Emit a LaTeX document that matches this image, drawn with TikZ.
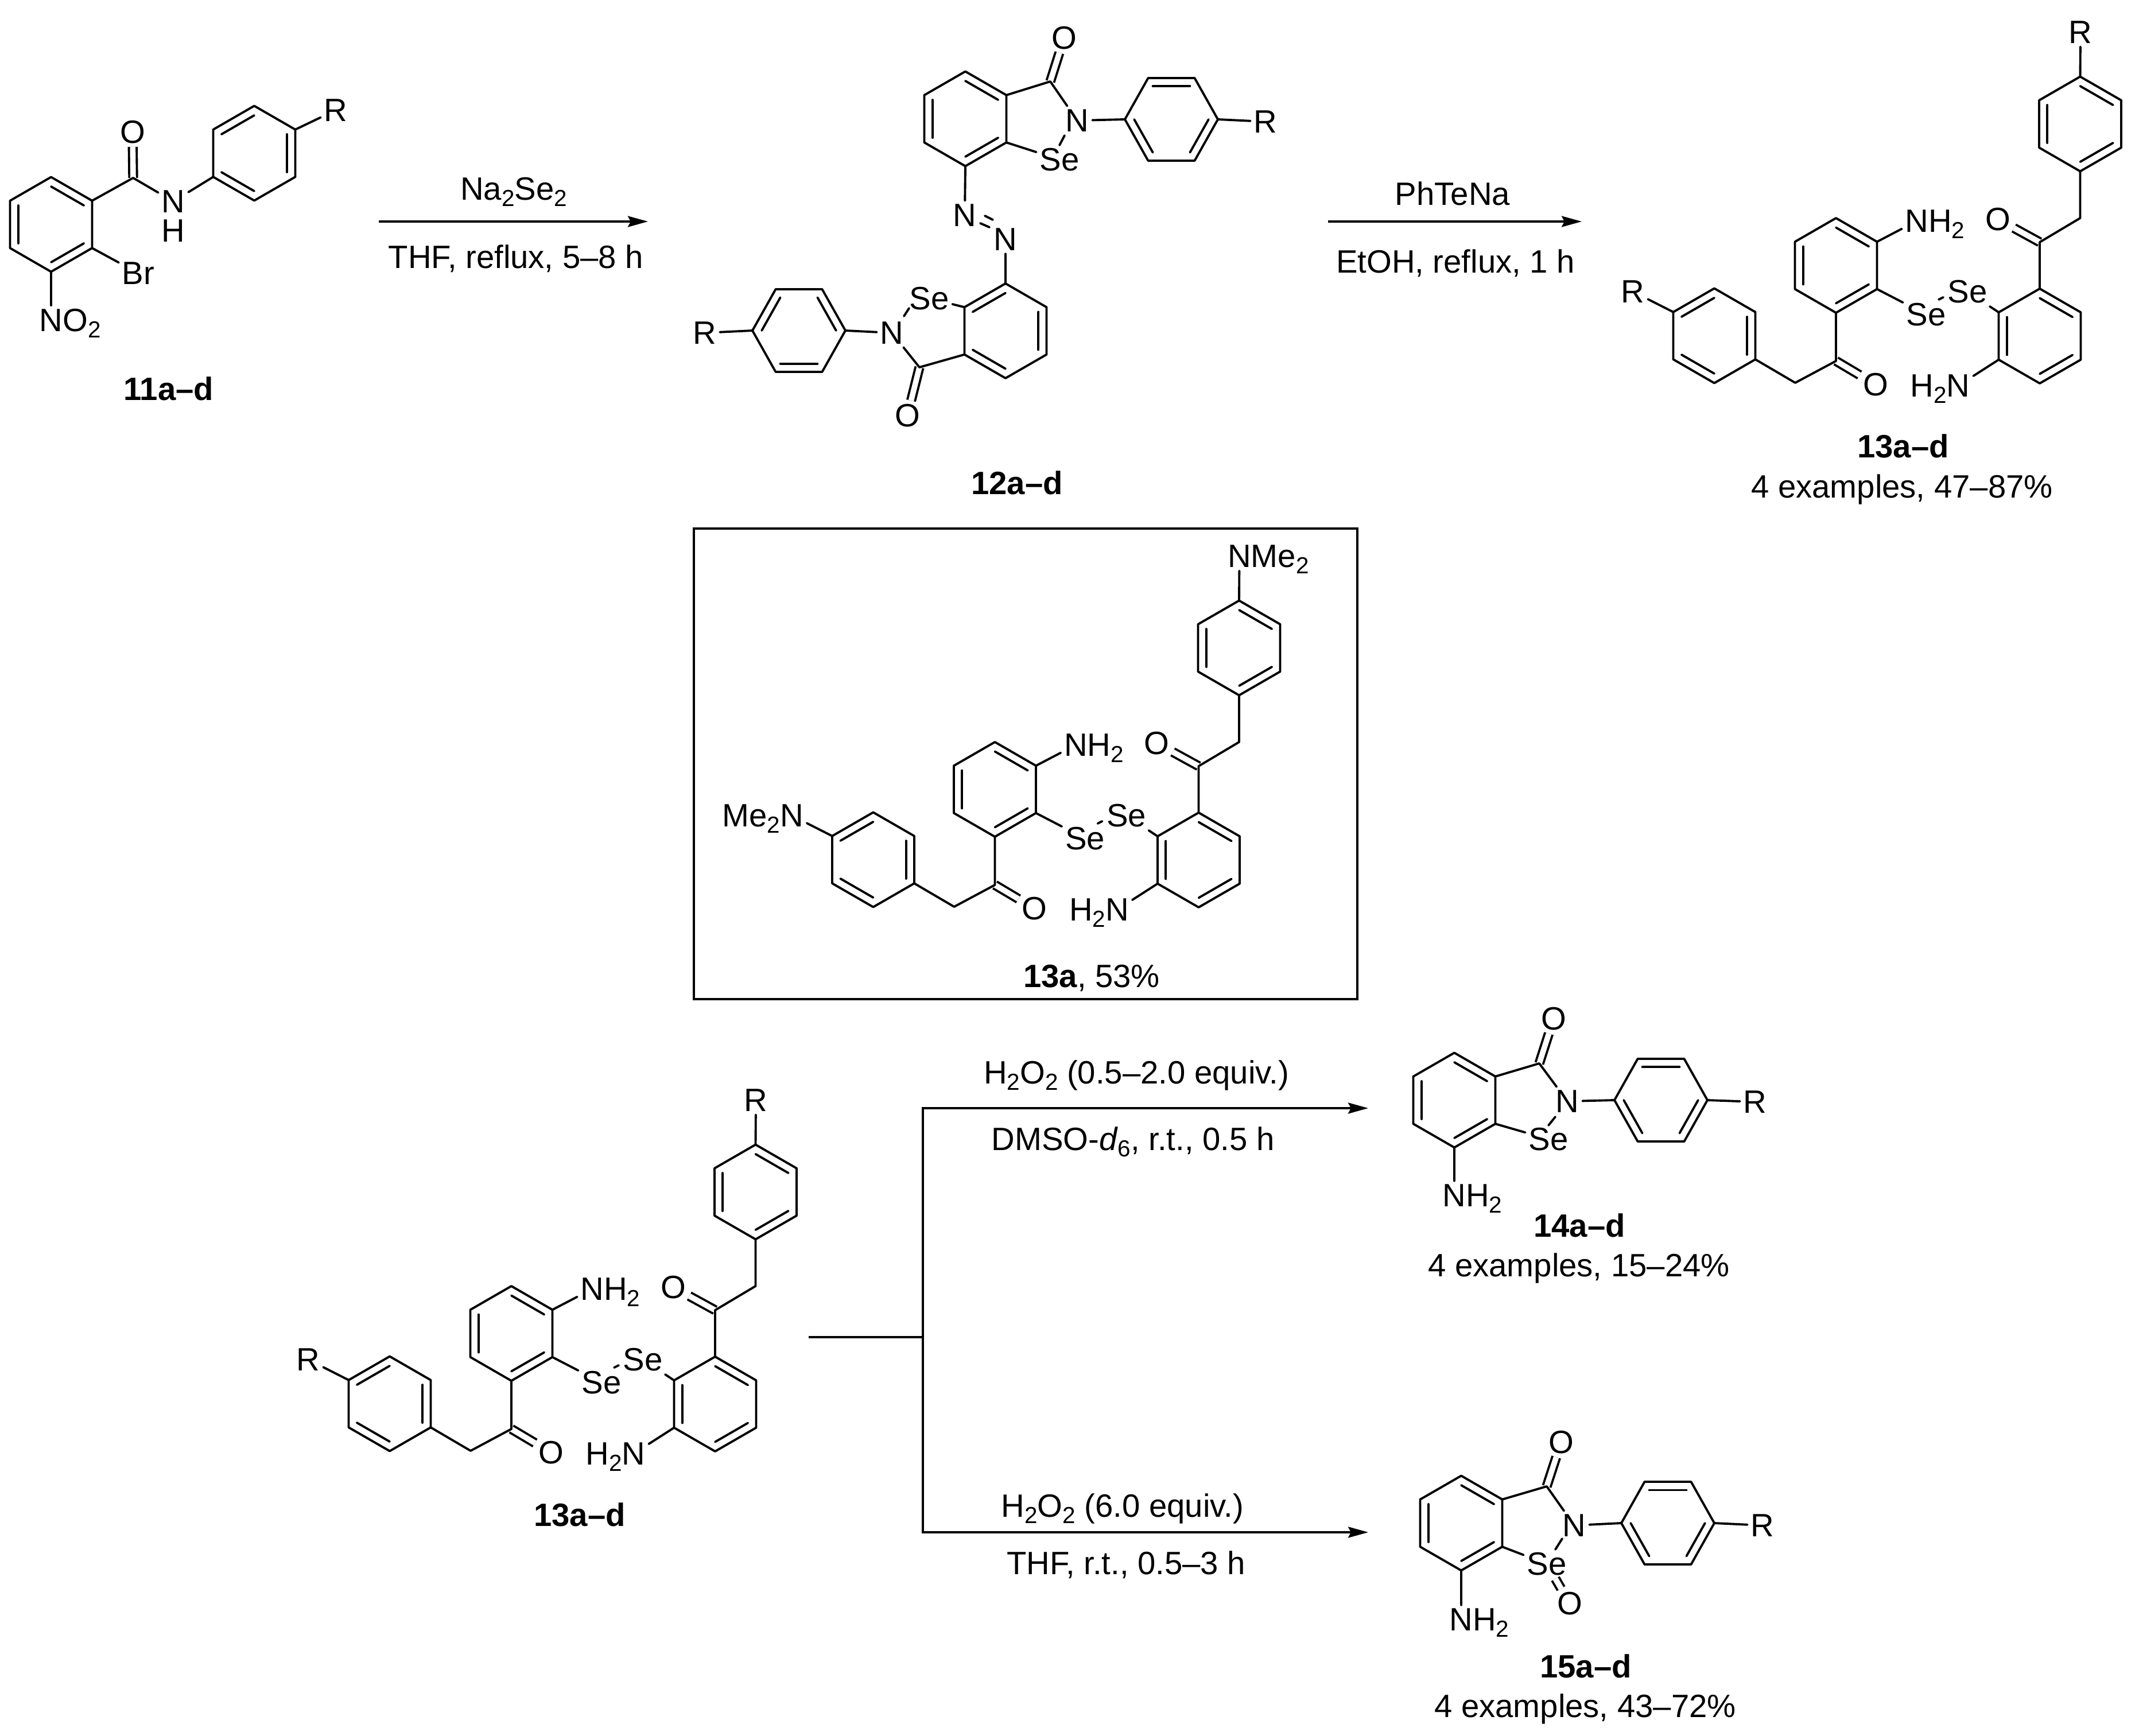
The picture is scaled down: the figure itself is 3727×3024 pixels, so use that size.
\documentclass[tikz,border=0pt]{standalone}
\usepackage{fontspec}
\setmainfont{Liberation Sans}
\usetikzlibrary{calc, arrows.meta}
\tikzstyle{bond} = [line width=1.1pt, line cap=round, line join=round]
\tikzstyle{dbond} = [line width=1.1pt, double, double distance=.096cm]
\tikzstyle{atom} = [inner sep=.06cm, outer sep=0pt]
\tikzstyle{txt} = [inner sep=0pt, anchor=base]
\tikzstyle{arrow} = [line width=1.1pt, -{Stealth[length=.35cm, width=.19cm, inset=.05cm]}]
\newcommand{\low}[1]{\smash{\raisebox{-.2em}{\fontsize{11.5}{11.5}\selectfont #1}}}
\newcommand{\ringV}[3]{
	\coordinate (#1c) at (#2,#3);
	\foreach \i/\px/\py in {1/0/-82.5, 2/71.5/-41.25, 3/71.5/41.25, 4/0/82.5, 5/-71.5/41.25, 6/-71.5/-41.25}
		\coordinate (#1\i) at ($(#1c)+(\px,\py)$);
	\draw [bond] (#11) -- (#12) -- (#13) -- (#14) -- (#15) -- (#16) -- cycle;
}
\newcommand{\ringH}[3]{
	\coordinate (#1c) at (#2,#3);
	\foreach \i/\px/\py in {1/-40.5/-72, 2/40.5/-72, 3/81/0, 4/40.5/72, 5/-40.5/72, 6/-81/0}
		\coordinate (#1\i) at ($(#1c)+(\px,\py)$);
	\draw [bond] (#11) -- (#12) -- (#13) -- (#14) -- (#15) -- (#16) -- cycle;
}
\newcommand{\dblin}[3]{\draw [bond] ($(#1#2)!.2!(#1c)$) -- ($(#1#3)!.2!(#1c)$);}
\newcommand{\diselenide}[5]{
	\begin{scope}[name prefix=#1-, shift={(#2,#3)}]
		\ringV{a}{3199}{462.5}
		\dblin{a}{1}{2} \dblin{a}{3}{4} \dblin{a}{5}{6}
		\ringV{b}{2987}{585}
		\dblin{b}{2}{3} \dblin{b}{6}{1} \dblin{b}{4}{5}
		\ringV{c}{3554}{585.5}
		\dblin{c}{5}{6} \dblin{c}{1}{2} \dblin{c}{3}{4}
		\ringV{d}{3624.5}{216}
		\dblin{d}{1}{2} \dblin{d}{5}{6} \dblin{d}{3}{4}
		\coordinate (keto) at (3199,629);
		\coordinate (meth) at (3128,667);
		\coordinate (ketoB) at (3554,422);
		\coordinate (methB) at (3624.5,380);
		\coordinate (dashA) at (3378,522);
		\coordinate (dashB) at (3386,518);
		\node (oxo) [atom] at (3268,670) {O};
		\node (oxoB) [atom] at (3481,382) {O};
		\node (amine) [atom] at (3340,385) {N\rlap{H\low{2}}};
		\node (amineB) [atom] at (3412,672) {\llap{H\low{2}}N};
		\node (se) [atom] at (3356,548) {Se};
		\node (seB) [atom] at (3428,508) {Se};
		\node (top) [atom] at (3625,56) {#4};
		\node (left) [atom] at (2845,508) {#5};
		\draw [dbond] (keto) -- (oxo);
		\draw [dbond] (ketoB) -- (oxoB);
		\draw [bond] (a4) -- (keto) -- (meth) -- (b3);
		\draw [bond] (c1) -- (ketoB) -- (methB) -- (d4);
		\draw [bond] (a2) -- (amine);
		\draw [bond] (c5) -- (amineB);
		\draw [bond] (a3) -- (se);
		\draw [bond] (c6) -- (seB);
		\draw [bond] (dashA) -- (dashB);
		\draw [bond] (d1) -- (top);
		\draw [bond] (b6) -- (left);
	\end{scope}
}
\begin{document}
\begin{tikzpicture}[x=.01cm, y=-.01cm, font=\fontsize{16}{19}\selectfont]
	\useasboundingbox (0,0) rectangle (3727,3024);
	\ringV{ia}{89}{391}
	\dblin{ia}{1}{2} \dblin{ia}{3}{4} \dblin{ia}{5}{6}
	\ringV{ib}{443}{267}
	\dblin{ib}{6}{1} \dblin{ib}{2}{3} \dblin{ib}{4}{5}
	\coordinate (iC) at (232,310);
	\node (iO) [atom] at (231,230) {O};
	\node (iN) [atom] at (302,351) {N};
	\node (iH) [atom] at (302,402) {H};
	\node (iR) [atom] at (585,192) {R};
	\node (iBr) [atom] at (241,476) {Br};
	\node (iNO) [atom] at (89,558) {N\rlap{O\low{2}}};
	\draw [dbond] (iC) -- (iO);
	\draw [bond] (ia2) -- (iC) -- (iN) -- (ib5);
	\draw [bond] (ib2) -- (iR);
	\draw [bond] (ia3) -- (iBr);
	\draw [bond] (ia4) -- (iNO);
	\node (lab11) [txt] at (294,697) {\textbf{11a–d}};
	\coordinate (arrA) at (660,386);
	\coordinate (arrB) at (1129,386);
	\draw [arrow] (arrA) -- (arrB);
	\node (naSe) [txt] at (895,348) {Na\low{2}Se\low{2}};
	\node (thf) [txt] at (899,467) {THF, reflux, 5–8 h};
	\ringV{ja}{1682}{207}
	\dblin{ja}{1}{2} \dblin{ja}{3}{4} \dblin{ja}{5}{6}
	\ringH{jb}{2041}{208}
	\dblin{jb}{1}{2} \dblin{jb}{3}{4} \dblin{jb}{5}{6}
	\ringV{jc}{1752}{576.5}
	\dblin{jc}{6}{1} \dblin{jc}{2}{3} \dblin{jc}{4}{5}
	\ringH{jd}{1392}{576}
	\dblin{jd}{6}{1} \dblin{jd}{2}{3} \dblin{jd}{4}{5}
	\coordinate (jC) at (1830,142);
	\coordinate (jCb) at (1602,640);
	\node (jO) [atom] at (1854,66) {O};
	\node (jOb) [atom] at (1581,724) {O};
	\node (jN) [atom] at (1877,210) {N};
	\node (jNb) [atom] at (1554,580) {N};
	\node (jSe) [atom] at (1846,278) {Se};
	\node (jSeb) [atom] at (1619,520) {Se};
	\node (jR) [atom] at (2205,212) {R};
	\node (jRb) [atom] at (1228,580) {R};
	\node (jAz) [atom] at (1681,375) {N};
	\node (jAzb) [atom] at (1752,417) {N};
	\coordinate (jd1a) at (1855,236);
	\coordinate (jd1b) at (1846,253);
	\coordinate (jd2a) at (1584,537);
	\coordinate (jd2b) at (1575,551);
	\coordinate (jz1a) at (1716,376);
	\coordinate (jz1b) at (1730,383);
	\coordinate (jz2a) at (1708,389);
	\coordinate (jz2b) at (1724,396);
	\draw [dbond] (jC) -- (jO);
	\draw [dbond] (jCb) -- (jOb);
	\draw [bond] (ja2) -- (jC) -- (jN) -- (jb6);
	\draw [bond] (jc5) -- (jCb) -- (jNb) -- (jd3);
	\draw [bond] (ja3) -- (jSe);
	\draw [bond] (jc6) -- (jSeb);
	\draw [bond] (jd1a) -- (jd1b);
	\draw [bond] (jd2a) -- (jd2b);
	\draw [bond] (jz1a) -- (jz1b);
	\draw [bond] (jz2a) -- (jz2b);
	\draw [bond] (ja4) -- (jAz);
	\draw [bond] (jc1) -- (jAzb);
	\draw [bond] (jb3) -- (jR);
	\draw [bond] (jd6) -- (jRb);
	\node (lab12) [txt] at (1772,861) {\textbf{12a–d}};
	\coordinate (arrC) at (2314,386);
	\coordinate (arrD) at (2756,386);
	\draw [arrow] (arrC) -- (arrD);
	\node (phTe) [txt] at (2531,357) {PhTeNa};
	\node (etoh) [txt] at (2536,475) {EtOH, reflux, 1 h};
	\diselenide{up}{0}{0}{R}{R}
	\node (lab13) [txt] at (3316,797) {\textbf{13a–d}};
	\node (yield13) [txt] at (3314,867) {4 examples, 47–87\%};
	\draw [line width=1.1pt] (1209,921) rectangle (2365,1741);
	\diselenide{box}{-1465.5}{913}{N\rlap{Me\low{2}}}{\llap{Me\low{2}}N}
	\node (lab13a) [txt] at (1902,1720) {\textbf{13a}, 53\%};
	\diselenide{low}{-2308}{1861}{R}{R}
	\node (lab13b) [txt] at (1010,2659) {\textbf{13a–d}};
	\coordinate (fork0) at (1409,2330);
	\coordinate (fork) at (1608,2330);
	\coordinate (forkT) at (1608,1931);
	\coordinate (forkB) at (1608,2670);
	\coordinate (tipT) at (2384,1931);
	\coordinate (tipB) at (2384,2670);
	\draw [line width=1.1pt] (fork0) -- (fork);
	\draw [arrow] (fork) -- (forkT) -- (tipT);
	\draw [arrow] (fork) -- (forkB) -- (tipB);
	\node (perA) [txt] at (1980,1888) {H\low{2}O\low{2} (0.5–2.0 equiv.)};
	\node (dmso) [txt] at (1974,2004) {DMSO-\textit{d}\low{6}, r.t., 0.5 h};
	\node (perB) [txt] at (1956,2643) {H\low{2}O\low{2} (6.0 equiv.)};
	\node (thfB) [txt] at (1962,2743) {THF, r.t., 0.5–3 h};
	\ringV{ka}{2534}{1917}
	\dblin{ka}{1}{2} \dblin{ka}{3}{4} \dblin{ka}{5}{6}
	\ringH{kb}{2894}{1917}
	\dblin{kb}{1}{2} \dblin{kb}{3}{4} \dblin{kb}{5}{6}
	\coordinate (kC) at (2682,1853);
	\node (kO) [atom] at (2707,1775) {O};
	\node (kN) [atom] at (2731,1919) {N};
	\node (kSe) [atom] at (2698,1985) {Se};
	\node (kR) [atom] at (3058,1920) {R};
	\node (kNH) [atom] at (2534,2083) {N\rlap{H\low{2}}};
	\coordinate (kda) at (2710,1946);
	\coordinate (kdb) at (2698,1961);
	\draw [dbond] (kC) -- (kO);
	\draw [bond] (ka2) -- (kC) -- (kN) -- (kb6);
	\draw [bond] (ka3) -- (kSe);
	\draw [bond] (kda) -- (kdb);
	\draw [bond] (kb3) -- (kR);
	\draw [bond] (ka4) -- (kNH);
	\node (lab14) [txt] at (2752,2155) {\textbf{14a–d}};
	\node (yield14) [txt] at (2751,2224) {4 examples, 15–24\%};
	\ringV{la}{2546}{2654}
	\dblin{la}{1}{2} \dblin{la}{3}{4} \dblin{la}{5}{6}
	\ringH{lb}{2906}{2654}
	\dblin{lb}{1}{2} \dblin{lb}{3}{4} \dblin{lb}{5}{6}
	\coordinate (lC) at (2695,2590);
	\node (lO) [atom] at (2720,2513) {O};
	\node (lN) [atom] at (2743,2658) {N};
	\node (lSe) [atom] at (2695,2725) {Se};
	\node (lOb) [atom] at (2735,2794) {O};
	\node (lR) [atom] at (3071,2658) {R};
	\node (lNH) [atom] at (2546,2822) {N\rlap{H\low{2}}};
	\coordinate (lda) at (2722,2681);
	\coordinate (ldb) at (2710,2700);
	\draw [dbond] (lC) -- (lO);
	\draw [dbond] (lSe) -- (lOb);
	\draw [bond] (la2) -- (lC) -- (lN) -- (lb6);
	\draw [bond] (la3) -- (lSe);
	\draw [bond] (lda) -- (ldb);
	\draw [bond] (lb3) -- (lR);
	\draw [bond] (la4) -- (lNH);
	\node (lab15) [txt] at (2763,2923) {\textbf{15a–d}};
	\node (yield15) [txt] at (2762,2992) {4 examples, 43–72\%};
\end{tikzpicture}
\end{document}
